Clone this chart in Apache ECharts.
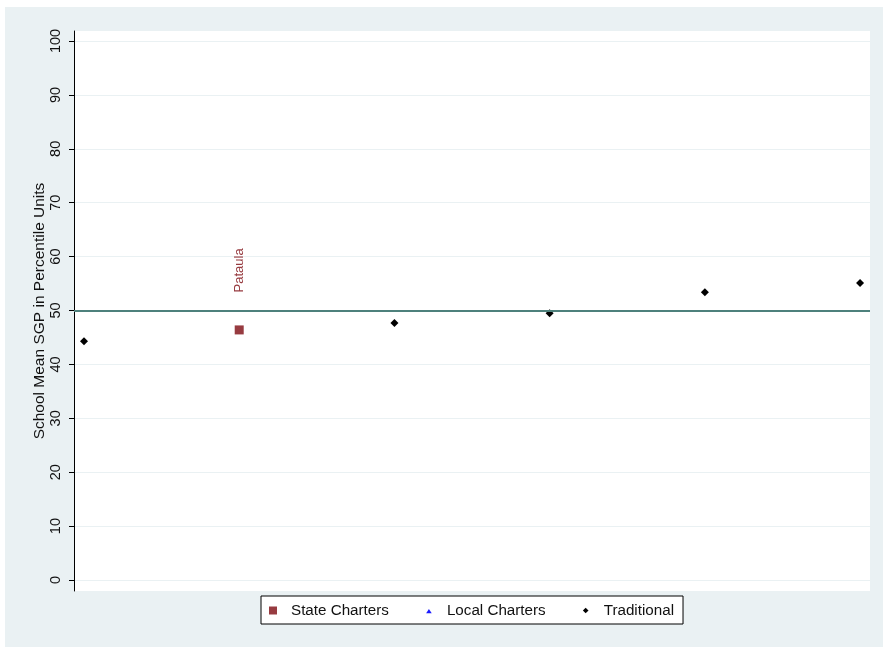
<!DOCTYPE html>
<html>
<head>
<meta charset="utf-8">
<script src="https://cdn.jsdelivr.net/npm/echarts@6/dist/echarts.min.js"></script>
<style>html,body{margin:0;padding:0;background:#fff;}#c{width:883px;height:647px;}</style>
</head>
<body>
<div id="c"></div>
<script>
// Data
const yTicks = [0, 10, 20, 30, 40, 50, 60, 70, 80, 90, 100];
const stateX = [2];
const stateY = [46.4];
const stateNames = ['Pataula'];
const localX = [];
const localY = [];
const tradX = [1, 3, 4, 5, 6];
const tradY = [44.3, 47.7, 49.5, 53.4, 55.1];
const refLine = 50;

const chart = echarts.init(document.getElementById('c'), null, {renderer: 'canvas'});
const FONT = 'Liberation Sans, Arial, sans-serif';
const maroon = '#973b40';

chart.setOption({
  animation: false,
  backgroundColor: '#ffffff',
  graphic: [{
    type: 'rect', left: 5, top: 7, z: -10,
    shape: {width: 878, height: 640},
    style: {fill: '#eaf1f3'}
  }],
  grid: {
    left: 74, right: 13, top: 31, bottom: 56,
    show: true, backgroundColor: '#ffffff', borderWidth: 0
  },
  xAxis: {
    type: 'value', min: 0.9356, max: 6.064,
    show: false, splitLine: {show: false}
  },
  yAxis: {
    type: 'value', min: -2.04, max: 101.86,
    name: 'School Mean SGP in Percentile Units',
    nameLocation: 'middle', nameGap: 26, nameRotate: 90,
    nameMoveOverlap: false,
    nameTextStyle: {fontFamily: FONT, fontSize: 15.5, color: '#111'},
    axisLine: {show: true, lineStyle: {color: '#000', width: 1}},
    axisTick: {show: true, length: 5, lineStyle: {color: '#000'}, customValues: yTicks},
    axisLabel: {
      rotate: 90, margin: 11, customValues: yTicks,
      fontFamily: FONT, fontSize: 14.5, color: '#111'
    },
    splitLine: {show: true, lineStyle: {color: '#eaf1f3', width: 1}, customValues: yTicks}
  },
  legend: {
    left: 261, top: 596,
    padding: [7, 9, 6, 8],
    backgroundColor: '#ffffff', borderColor: '#000', borderWidth: 1,
    itemWidth: 8, itemHeight: 8, itemGap: 36,
    textStyle: {fontFamily: FONT, fontSize: 15.2, color: '#111', padding: [0, 0, 0, 9]},
    data: [
      {name: 'State Charters', icon: 'rect'},
      {name: 'Local Charters', icon: 'path://M0,0M10,10M5,3L8.5,8.5L1.5,8.5Z'},
      {name: 'Traditional', icon: 'path://M0,0M10,10M5,1.5L8.5,5L5,8.5L1.5,5Z'}
    ]
  },
  series: [
    {
      name: 'State Charters', type: 'scatter',
      symbol: 'rect', symbolSize: 9,
      itemStyle: {color: maroon, opacity: 1},
      data: stateX.map((x, i) => ({value: [x, stateY[i]], name: stateNames[i]})),
      label: {
        show: true, formatter: p => p.name,
        position: 'top', distance: 37, rotate: 90,
        align: 'left', verticalAlign: 'middle', offset: [-4, 0],
        fontFamily: FONT, fontSize: 13, color: maroon
      },
      z: 5
    },
    {
      name: 'Local Charters', type: 'scatter',
      symbol: 'triangle', symbolSize: 6,
      itemStyle: {color: '#1a1aff', opacity: 1},
      data: localX.map((x, i) => [x, localY[i]])
    },
    {
      name: 'Traditional', type: 'scatter',
      symbol: 'diamond', symbolSize: 8,
      itemStyle: {color: '#000', opacity: 1},
      data: tradX.map((x, i) => [x, tradY[i]]),
      markLine: {
        silent: true, symbol: ['none', 'none'],
        label: {show: false},
        lineStyle: {color: '#4e817c', width: 2, type: 'solid'},
        data: [{yAxis: refLine}]
      },
      z: 4
    }
  ]
});
</script>
</body>
</html>
